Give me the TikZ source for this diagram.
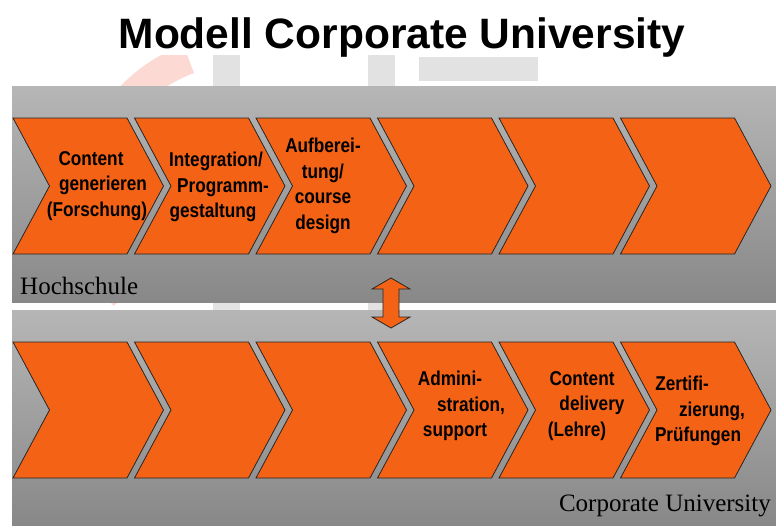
\documentclass[tikz,border=0pt]{standalone}
\usepackage{fontspec}
\setmainfont{Liberation Serif}
\newfontfamily\arialfont{Liberation Sans}
\newfontfamily\arialnarrow{Liberation Sans}[FakeStretch=0.86]
\definecolor{chevorange}{HTML}{F46216}
\definecolor{bandtop}{HTML}{B6B6B6}
\definecolor{bandbottom}{HTML}{888888}
\definecolor{logogray}{HTML}{E2E2E2}
\definecolor{logored}{HTML}{FCD9D2}
\begin{document}
\begin{tikzpicture}
[x=1pt, y=-1pt, chevron/.style={draw=black!85, line width=0.8pt, fill=chevorange},
band/.style={top color=bandtop, bottom color=bandbottom},
step text/.style={font=\arialnarrow\bfseries\fontsize{20}{25.5}\selectfont, align=center, inner sep=0pt},
band label/.style={font=\fontsize{25}{30}\selectfont, inner sep=0pt}]
\useasboundingbox (0,0) rectangle (776,525);

% faint logo behind the bands
\begin{scope}
\clip (0,55) rectangle (776,525);
\draw[logored, line width=30pt] (240,200) ++(140:150) arc[start angle=140, end angle=250, radius=150];
\fill[logogray] (213,40) rectangle (240,310);
\fill[logogray] (368,40) rectangle (395,310);
\fill[logogray] (419,57) rectangle (538,81);
\end{scope}

\node[font=\arialfont\bfseries\fontsize{42.5}{50}\selectfont, anchor=base, inner sep=0pt] (title) at (402,48) {Modell Corporate University};

% two bands
\shade[band] (12,86) rectangle (776,302);
\shade[band] (12,310) rectangle (776,525);

% chevrons, upper and lower row
\foreach \s in {13,134.5,256,377.5,499,620.5} {
  \draw[chevron] (\s,118) -- ++(114,0) -- ++(36.5,68) -- ++(-36.5,68) -- ++(-114,0) -- ++(36.5,-68) -- cycle;
  \draw[chevron] (\s,342) -- ++(114,0) -- ++(36.5,68) -- ++(-36.5,68) -- ++(-114,0) -- ++(36.5,-68) -- cycle;
}

\node[step text] (gen) at (97,186) {Content\hspace*{12pt}\\\hspace*{12pt}generieren\\(Forschung)};
\node[step text] (integ) at (216,187) {Integration/\\\hspace*{14pt}Programm-\\gestaltung\hspace*{6pt}};
\node[step text] (aufb) at (323,186) {Aufberei-\\tung/\\course\\design};

\node[step text] (admin) at (460,406) {Admini-\hspace*{20pt}\\\hspace*{22pt}stration,\\support\hspace*{10pt}};
\node[step text] (deliv) at (582,406) {Content\\\hspace*{20pt}delivery\\(Lehre)\hspace*{10pt}};
\node[step text] (zert) at (698,411) {Zertifi-\hspace*{32pt}\\\hspace*{28pt}zierung,\\Prüfungen};

\node[band label, anchor=base west] (hs) at (20,294) {Hochschule};
\node[band label, anchor=base east] (cu) at (771,511) {Corporate University};

% exchange between the two bands
\draw[chevron] (391,278) -- (410,289) -- (399,289) -- (399,317) -- (410,317) -- (391,328)
  -- (372,317) -- (383,317) -- (383,289) -- (372,289) -- cycle;
\end{tikzpicture}
\end{document}
